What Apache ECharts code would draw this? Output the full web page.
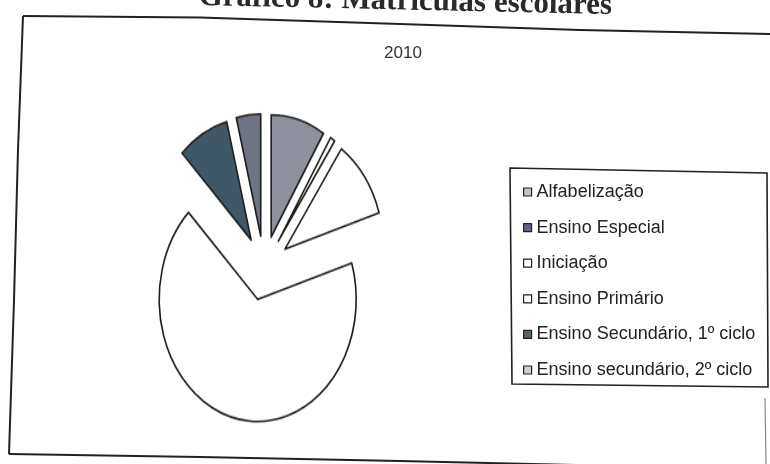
<!DOCTYPE html>
<html><head><meta charset="utf-8">
<script src="https://cdn.jsdelivr.net/npm/echarts@6/dist/echarts.min.js"></script>
<style>
html,body{margin:0;padding:0;background:#fff;}
#wrap{position:relative;width:770px;height:464px;overflow:hidden;background:#fff;}
#pie,#main{position:absolute;left:0;top:0;width:770px;height:464px;}
#pie{transform:scaleY(1.24);transform-origin:0 268px;}
</style></head><body>
<div id="wrap"><div id="pie"></div><div id="main"></div></div>
<script>
// ---- data (percent of enrolments) ----
const categories = ['Alfabelização', 'Ensino Especial', 'Iniciação', 'Ensino Primário', 'Ensino Secundário, 1º ciclo', 'Ensino secundário, 2º ciclo'];
const values = [8.9, 0.8, 10.5, 67.4, 8.4, 4.0];
const sliceColors = ['#8e909e', '#ffffff', '#ffffff', '#ffffff', '#3f5766', '#6f7485'];
const legendIconColors = ['#c4c4c8', '#5d6585', '#ffffff', '#ffffff', '#4f6675', '#cfcfd2'];
const titleText = 'Gráfico 8: Matrículas escolares';
const subtitleText = '2010';

const pieData = categories.map((n, i) => ({
  name: n, value: values[i], selected: true,
  itemStyle: { color: sliceColors[i] }
}));

const pieChart = echarts.init(document.getElementById('pie'), null, { renderer: 'canvas' });
pieChart.setOption({
  animation: false,
  backgroundColor: 'transparent',
  series: [{
    type: 'pie',
    center: [264, 268],
    radius: 98.5,
    startAngle: 90,
    clockwise: true,
    selectedMode: 'multiple',
    selectedOffset: 26,
    label: { show: false },
    labelLine: { show: false },
    emphasis: { disabled: true },
    itemStyle: { borderColor: '#1e1e1e', borderWidth: 1.6 },
    data: pieData
  }]
});

const main = echarts.init(document.getElementById('main'), null, { renderer: 'canvas' });
main.setOption({
  animation: false,
  backgroundColor: 'transparent',
  legend: {
    orient: 'vertical',
    left: 518,
    top: 178,
    padding: 5,
    itemWidth: 8,
    itemHeight: 8,
    itemGap: 17.6,
    selectedMode: false,
    icon: 'rect',
    textStyle: { fontFamily: 'Liberation Sans', fontSize: 18, color: '#222' },
    data: categories.map((n, i) => ({
      name: n,
      itemStyle: { color: legendIconColors[i], borderColor: '#222', borderWidth: 1.2, opacity: 1 }
    }))
  },
  graphic: [
    { type: 'text', x: 405, y: 17, rotation: -0.022,
      style: { text: titleText, fontFamily: 'Liberation Serif', fontWeight: 'bold', fontSize: 31, fill: '#2a2a2a',
        align: 'center', verticalAlign: 'bottom', textAlign: 'center', textVerticalAlign: 'bottom' } },
    { type: 'text', x: 403, y: 53,
      style: { text: subtitleText, fontFamily: 'Liberation Sans', fontSize: 17, fill: '#333',
        align: 'center', verticalAlign: 'middle', textAlign: 'center', textVerticalAlign: 'middle' } },
    { type: 'polyline', shape: { points: [[23, 16], [200, 17.5], [400, 24], [580, 30], [770, 34]] },
      style: { stroke: '#222', lineWidth: 2, fill: null } },
    { type: 'polyline', shape: { points: [[23, 16], [18, 150], [14, 300], [9, 454]] },
      style: { stroke: '#222', lineWidth: 2, fill: null } },
    { type: 'polyline', shape: { points: [[9, 454], [200, 457], [400, 461], [620, 466]] },
      style: { stroke: '#222', lineWidth: 2, fill: null } },
    { type: 'line', shape: { x1: 765, y1: 398, x2: 766, y2: 464 },
      style: { stroke: '#888', lineWidth: 1.2 } },
    { type: 'polygon', shape: { points: [[510, 168], [767, 173], [768, 387], [512, 384]] },
      style: { stroke: '#222', lineWidth: 1.6, fill: null } }
  ],
  series: [{
    type: 'pie',
    center: [-200, -200],
    radius: [0, 0],
    silent: true,
    label: { show: false },
    labelLine: { show: false },
    itemStyle: { borderWidth: 0 },
    data: categories.map((n, i) => ({ name: n, value: values[i], itemStyle: { color: sliceColors[i] } }))
  }]
});
</script>
</body></html>
